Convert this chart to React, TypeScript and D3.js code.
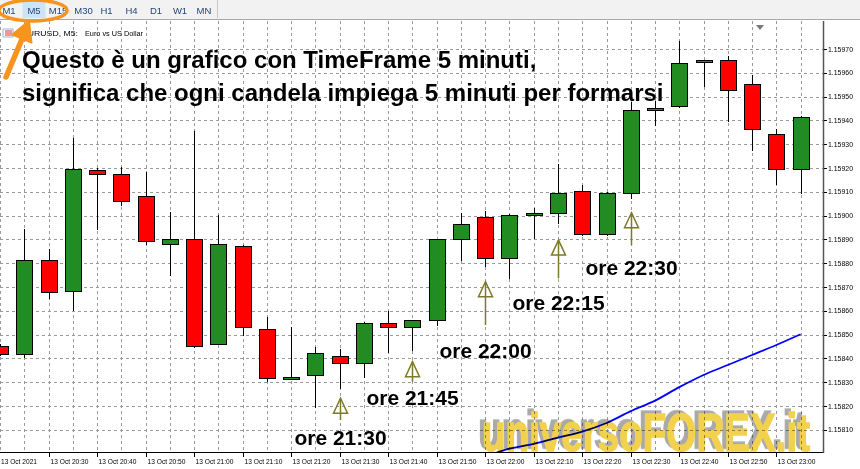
import React from "react";
import * as d3 from "d3";

// ---- data ----
const times = ["20:20","20:25","20:30","20:35","20:40","20:45","20:50","20:55","21:00","21:05","21:10","21:15","21:20","21:25","21:30","21:35","21:40","21:45","21:50","21:55","22:00","22:05","22:10","22:15","22:20","22:25","22:30","22:35","22:40","22:45","22:50","22:55","23:00","23:05"];
const opens = [1.158450,1.158418,1.158812,1.158682,1.159193,1.159175,1.159081,1.158882,1.158900,1.158460,1.158871,1.158522,1.158312,1.158328,1.158408,1.158380,1.158550,1.158531,1.158560,1.158900,1.158993,1.158820,1.159001,1.159009,1.159102,1.158921,1.159093,1.159442,1.159460,1.159644,1.159652,1.159553,1.159341,1.159194];
const highs = [1.158460,1.158943,1.158859,1.159326,1.159200,1.159205,1.159184,1.159014,1.159355,1.159001,1.158876,1.158572,1.158533,1.158449,1.158440,1.158553,1.158600,1.158563,1.158903,1.159009,1.159020,1.159005,1.159033,1.159217,1.159128,1.159099,1.159476,1.159481,1.159734,1.159654,1.159672,1.159592,1.159362,1.159418];
const lows = [1.158410,1.158402,1.158649,1.158600,1.158939,1.159040,1.158876,1.158746,1.158445,1.158454,1.158492,1.158300,1.158309,1.158190,1.158270,1.158318,1.158421,1.158431,1.158537,1.158810,1.158782,1.158732,1.158900,1.158963,1.158916,1.158914,1.159071,1.159378,1.159451,1.159542,1.159394,1.159273,1.159128,1.159091];
const closes = [1.158419,1.158812,1.158680,1.159194,1.159173,1.159062,1.158892,1.158900,1.158450,1.158880,1.158530,1.158318,1.158320,1.158422,1.158380,1.158550,1.158531,1.158560,1.158900,1.158963,1.158820,1.159001,1.159009,1.159093,1.158921,1.159093,1.159442,1.159451,1.159642,1.159652,1.159529,1.159362,1.159194,1.159413];

const maTimes = ["21:55","22:00","22:05","22:10","22:15","22:20","22:25","22:30","22:35","22:40","22:45","22:50","22:55","23:00","23:05"];
const maValues = [1.157970,1.157990,1.158020,1.158040,1.158067,1.158092,1.158128,1.158178,1.158222,1.158279,1.158330,1.158372,1.158414,1.158456,1.158501];

const yTicks = [1.1581,1.1582,1.1583,1.1584,1.1585,1.1586,1.1587,1.1588,1.1589,1.159,1.1591,1.1592,1.1593,1.1594,1.1595,1.1596,1.1597];
const xTicks = ["20:30","20:40","20:50","21:00","21:10","21:20","21:30","21:40","21:50","22:00","22:10","22:20","22:30","22:40","22:50","23:00"];
const firstDateLabel = "13 Oct 2021";

const arrowTimes = ["21:30","21:45","22:00","22:15","22:30"];
const arrowTop = [1.158232,1.158386,1.158722,1.158897,1.159012];
const arrowBottom = [1.158141,1.158302,1.158540,1.158736,1.158876];
const arrowLabels = ["ore 21:30","ore 21:45","ore 22:00","ore 22:15","ore 22:30"];
const labelPrices = [1.158035,1.158203,1.158401,1.158603,1.158750];

const titleLines = ["Questo è un grafico con TimeFrame 5 minuti,", "significa che ogni candela impiega 5 minuti per formarsi"];
const periods = ["M1","M5","M15","M30","H1","H4","D1","W1","MN"];
const periodCenters = [9,34,58,83.5,106.5,131.5,156,180,204];
const captionSymbol = "EURUSD, M5:";
const captionName = "Euro vs US Dollar";
const watermark = "universoFOREX.it";

const parse = (t: string) => {
  const [h, m] = t.split(":").map(Number);
  return new Date(2021, 9, 13, h, m);
};

export default function App() {
  const W = 860, H = 469;
  const plotRight = 823, plotTop = 21, plotBottom = 452;
  const x = d3.scaleTime().domain([parse(times[0]), parse(times[times.length - 1])]).range([0, 800.6]);
  const y = d3.scaleLinear().domain([1.1581, 1.1597]).range([429.7, 49]);
  const fmt = d3.timeFormat("%H:%M");
  const line = d3.line<number>().x((_, i) => x(parse(maTimes[i]))).y((d) => y(d)).curve(d3.curveMonotoneX);
  const grid = "#9a9a9a";
  const axisFont = "'Liberation Sans', Arial, sans-serif";
  const orange = "#F7941D";
  const olive = "#7d7a2a";
  const wmFont = "'Liberation Sans', Arial, sans-serif";

  return (
    <svg width={W} height={H} style={{ position: "fixed", left: 0, top: 0, background: "#fff" }}>
      <defs>
        <clipPath id="plot">
          <rect x={0} y={plotTop} width={plotRight} height={plotBottom - plotTop} />
        </clipPath>
        <filter id="wmShadow" x="-5%" y="-20%" width="110%" height="140%">
          <feDropShadow dx={-4} dy={-2} stdDeviation={0} floodColor="#a9a9a9" floodOpacity={1} />
        </filter>
      </defs>
      {/* toolbar */}
      <rect x={0} y={0} width={W} height={19} fill="#f2f2f2" />
      <rect x={22.5} y={0} width={23} height={18} fill="#cce4f7" />
      <line x1={217.5} x2={217.5} y1={0} y2={18} stroke="#c8c8c8" />
      <line x1={0} x2={W} y1={19.5} y2={19.5} stroke="#a8a8a8" />
      {periods.map((p, i) => (
        <text key={p} x={periodCenters[i]} y={14} textAnchor="middle" fontSize={9.5} fontFamily={axisFont} fill="#23467a">{p}</text>
      ))}

      {/* grid */}
      <g clipPath="url(#plot)" shapeRendering="crispEdges">
        {yTicks.map((t) => (
          <line key={"h" + t} x1={0} x2={plotRight} y1={Math.round(y(t)) + 0.5} y2={Math.round(y(t)) + 0.5} stroke={grid} strokeDasharray="3,3" />
        ))}
        {times.map((t) => (
          <line key={"v" + t} x1={Math.round(x(parse(t))) + 0.5} x2={Math.round(x(parse(t))) + 0.5} y1={plotTop} y2={plotBottom} stroke={grid} strokeDasharray="3,3" />
        ))}
      </g>

      {/* chart caption & icon */}
      <g>
        <rect x={3} y={29} width={10} height={8} fill="#fff" stroke="#8aa0c8" strokeWidth={0.8} />
        <line x1={5} x2={12} y1={31} y2={31} stroke="#d33" />
        <line x1={5} x2={12} y1={33} y2={33} stroke="#d33" />
        <line x1={5} x2={12} y1={35} y2={35} stroke="#d33" />
        <text x={22} y={36} fontSize={7.6} fontFamily={axisFont} textLength={56} lengthAdjust="spacingAndGlyphs" fill="#000">{captionSymbol}</text>
        <text x={85} y={36} fontSize={7.6} fontFamily={axisFont} textLength={58} lengthAdjust="spacingAndGlyphs" fill="#000">{captionName}</text>
      </g>

      {/* candles */}
      <g clipPath="url(#plot)">
        {times.map((t, i) => {
          const cx = Math.round(x(parse(t)));
          const o = opens[i], c = closes[i];
          const bull = c >= o;
          const top = Math.round(y(Math.max(o, c)));
          const bot = Math.round(y(Math.min(o, c)));
          return (
            <g key={"c" + t} shapeRendering="crispEdges">
              <line x1={cx + 0.5} x2={cx + 0.5} y1={Math.round(y(highs[i]))} y2={Math.round(y(lows[i]))} stroke="#000" />
              <rect x={cx - 8 + 0.5} y={top + 0.5} width={16} height={Math.max(1, bot - top)} fill={bull ? "#228B22" : "#FF0000"} stroke="#000" />
            </g>
          );
        })}
      </g>

      {/* moving average */}
      <g clipPath="url(#plot)">
        <path d={line(maValues) || ""} fill="none" stroke="#0000ff" strokeWidth={1.8} />
      </g>

      {/* watermark */}
      <g clipPath="url(#plot)" style={{ mixBlendMode: "multiply" }}>
        <g transform="translate(482,451) scale(1,1.4)" filter="url(#wmShadow)">
          <text x={0} y={0} fontSize={38} fontWeight={900} fontFamily={wmFont} textLength={328} lengthAdjust="spacingAndGlyphs" fill="#f2d24e" stroke="#f2d24e" strokeWidth={1}>{watermark}</text>
        </g>
      </g>

      {/* axes */}
      <line x1={0} x2={plotRight} y1={452.5} y2={452.5} stroke="#000" />
      <line x1={823.5} x2={823.5} y1={plotTop} y2={453} stroke="#555" strokeWidth={1.5} />
      {yTicks.map((t) => (
        <g key={"yt" + t}>
          <line x1={824} x2={827} y1={Math.round(y(t)) + 0.5} y2={Math.round(y(t)) + 0.5} stroke="#000" />
          <text x={828} y={y(t) + 2.7} fontSize={7.4} fontFamily={axisFont} textLength={25} lengthAdjust="spacingAndGlyphs" fill="#000">{t.toFixed(5)}</text>
        </g>
      ))}
      <text x={1} y={463.5} fontSize={7.4} fontFamily={axisFont} textLength={36} lengthAdjust="spacingAndGlyphs" fill="#000">{firstDateLabel}</text>
      {xTicks.map((t) => {
        const tx = Math.round(x(parse(t)));
        return (
          <g key={"xt" + t}>
            <line x1={tx + 0.5} x2={tx + 0.5} y1={453} y2={457} stroke="#000" />
            <text x={tx + 1.5} y={463.5} fontSize={7.4} fontFamily={axisFont} textLength={38} lengthAdjust="spacingAndGlyphs" fill="#000">{"13 Oct " + fmt(parse(t))}</text>
          </g>
        );
      })}
      <polygon points="756,25 764,25 760,30" fill="#7a7a7a" />

      {/* arrows & labels */}
      {arrowTimes.map((t, i) => {
        const ax = Math.round(x(parse(t))) + 0.5;
        const yt = y(arrowTop[i]);
        const yb = y(arrowBottom[i]);
        return (
          <g key={"a" + t}>
            <polygon points={`${ax},${yt} ${ax - 7},${yt + 15} ${ax + 7},${yt + 15}`} fill="none" stroke={olive} strokeWidth={1.5} />
            <line x1={ax} x2={ax} y1={yt} y2={yb} stroke={olive} strokeWidth={1.5} />
            <text x={ax} y={y(labelPrices[i])} textAnchor="middle" fontSize={21} fontWeight="bold" fontFamily={axisFont} fill="#000">{arrowLabels[i]}</text>
          </g>
        );
      })}

      {/* title */}
      <text x={22} y={67.5} fontSize={24} fontWeight="bold" fontFamily={axisFont} fill="#000">{titleLines[0]}</text>
      <text x={22} y={100.5} fontSize={24} fontWeight="bold" fontFamily={axisFont} fill="#000">{titleLines[1]}</text>

      {/* orange annotation */}
      <ellipse cx={33} cy={10.5} rx={34} ry={10.5} fill="none" stroke={orange} strokeWidth={3.5} />
      <line x1={6} y1={77} x2={22} y2={39} stroke={orange} strokeWidth={5.5} strokeLinecap="round" />
      <polygon points="29,21 31.5,42.5 12.5,34.5" fill={orange} stroke={orange} strokeWidth={2} strokeLinejoin="round" />
    </svg>
  );
}
